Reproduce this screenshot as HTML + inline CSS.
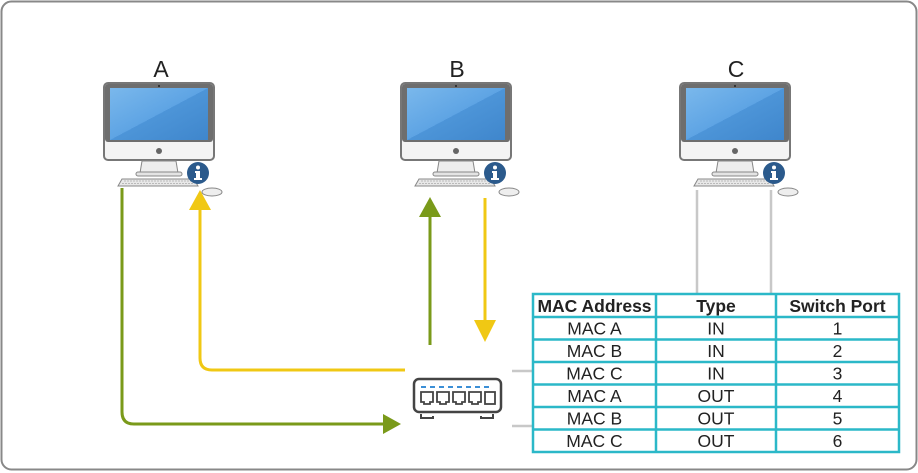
<!DOCTYPE html>
<html><head><style>
body{margin:0;background:#fff;}
svg{display:block;font-family:"Liberation Sans",Arial,sans-serif;}
</style></head><body>
<svg width="918" height="473" viewBox="0 0 918 473" xmlns="http://www.w3.org/2000/svg">
<defs>
<linearGradient id="scr" x1="0" y1="0" x2="1" y2="1">
<stop offset="0" stop-color="#7ab8ec"/><stop offset="0.5" stop-color="#5ea4e4"/><stop offset="0.5" stop-color="#4d95d8"/><stop offset="1" stop-color="#3f86cc"/>
</linearGradient>
<g id="pc">
<rect x="0" y="0" width="110" height="77" rx="4" fill="#f4f4f4" stroke="#777" stroke-width="2"/>
<rect x="1" y="1" width="108" height="58" rx="3" fill="#6e6e6e"/>
<rect x="6" y="5" width="98" height="52" fill="url(#scr)"/>
<circle cx="55" cy="3" r="1" fill="#222"/>
<circle cx="55" cy="68" r="3" fill="#666"/>
<path d="M38 78 L72 78 L74 90 L36 90 Z" fill="#eee" stroke="#888"/>
<rect x="32" y="89" width="46" height="4" rx="2" fill="#e4e4e4" stroke="#888"/>
<path d="M18 96 L90 96 L94 103 L14 103 Z" fill="#e8e8e8" stroke="#888"/>
<path d="M20 98 H88 M18 100.5 H90" stroke="#aaa" stroke-width="0.8" stroke-dasharray="2 1"/>
<ellipse cx="108" cy="109" rx="10" ry="4" fill="#eee" stroke="#888"/>
<circle cx="94" cy="90" r="11" fill="#2b5a8c"/>
<circle cx="94" cy="84.5" r="2" fill="#fff"/>
<path d="M91 88 H96 V95 H98 V97 H90 V95 H92 V90 H91 Z" fill="#fff"/>
</g>
</defs>
<rect x="1.5" y="1.5" width="915" height="468" rx="10" fill="#fff" stroke="#888" stroke-width="2"/>
<text x="161" y="77" font-size="23" text-anchor="middle" fill="#222">A</text>
<text x="457" y="77" font-size="23" text-anchor="middle" fill="#222">B</text>
<text x="736" y="77" font-size="23" text-anchor="middle" fill="#222">C</text>
<use href="#pc" x="104" y="83"/>
<use href="#pc" x="401" y="83"/>
<use href="#pc" x="680" y="83"/>
<path d="M697 190 V294 M771 190 V294" stroke="#c8c8c8" stroke-width="2.5" fill="none"/>
<path d="M512 371 H533 M512 426 H533" stroke="#c8c8c8" stroke-width="2.5" fill="none"/>
<path d="M122 188 V412 Q122 424 134 424 H385" stroke="#7a9a1a" stroke-width="3" fill="none"/>
<path d="M383 414 L401 424 L383 434 Z" fill="#7a9a1a"/>
<path d="M405 370 H212 Q200 370 200 358 V208" stroke="#f0c814" stroke-width="3" fill="none"/>
<path d="M189 210 L200 190 L211 210 Z" fill="#f0c814"/>
<path d="M430 345 V215" stroke="#7a9a1a" stroke-width="3" fill="none"/>
<path d="M419 217 L430 197 L441 217 Z" fill="#7a9a1a"/>
<path d="M485 198 V322" stroke="#f0c814" stroke-width="3" fill="none"/>
<path d="M474 320 L485 342 L496 320 Z" fill="#f0c814"/>
<rect x="414" y="379" width="87" height="33" rx="5" fill="#fff" stroke="#444" stroke-width="2.5"/>
<g fill="#3b8fd6"><rect x="421" y="386" width="5" height="2"/><rect x="430" y="386" width="5" height="2"/><rect x="439" y="386" width="5" height="2"/><rect x="448" y="386" width="5" height="2"/><rect x="457" y="386" width="5" height="2"/><rect x="466" y="386" width="5" height="2"/><rect x="475" y="386" width="5" height="2"/><rect x="484" y="386" width="5" height="2"/></g>
<g fill="none" stroke="#444" stroke-width="1.8">
<path d="M421 392 h12 v10 h-3 v2 h-6 v-2 h-3 z"/><path d="M437 392 h12 v10 h-3 v2 h-6 v-2 h-3 z"/><path d="M453 392 h12 v10 h-3 v2 h-6 v-2 h-3 z"/><path d="M469 392 h12 v10 h-3 v2 h-6 v-2 h-3 z"/><rect x="485" y="392" width="10" height="12"/>
</g>
<path d="M421 414 v4 h12 v-2 M481 416 v2 h12 v-4" stroke="#444" stroke-width="2" fill="none"/>
<g stroke="#2bb8c8" stroke-width="2.5" fill="none">
<rect x="533" y="294" width="366" height="158"/>
<path d="M656 294 V452 M776 294 V452"/>
<path d="M533 317 H899 M533 339.5 H899 M533 362 H899 M533 384.5 H899 M533 407 H899 M533 429.5 H899"/>
</g>
<g font-size="17.5" fill="#222" text-anchor="middle">
<text x="594.5" y="312" font-weight="bold">MAC Address</text>
<text x="716" y="312" font-weight="bold">Type</text>
<text x="837.5" y="312" font-weight="bold">Switch Port</text>
<text x="594.5" y="334.5">MAC A</text><text x="716" y="334.5">IN</text><text x="837.5" y="334.5">1</text>
<text x="594.5" y="357">MAC B</text><text x="716" y="357">IN</text><text x="837.5" y="357">2</text>
<text x="594.5" y="379.5">MAC C</text><text x="716" y="379.5">IN</text><text x="837.5" y="379.5">3</text>
<text x="594.5" y="402">MAC A</text><text x="716" y="402">OUT</text><text x="837.5" y="402">4</text>
<text x="594.5" y="424.5">MAC B</text><text x="716" y="424.5">OUT</text><text x="837.5" y="424.5">5</text>
<text x="594.5" y="447">MAC C</text><text x="716" y="447">OUT</text><text x="837.5" y="447">6</text>
</g>
</svg>
</body></html>
